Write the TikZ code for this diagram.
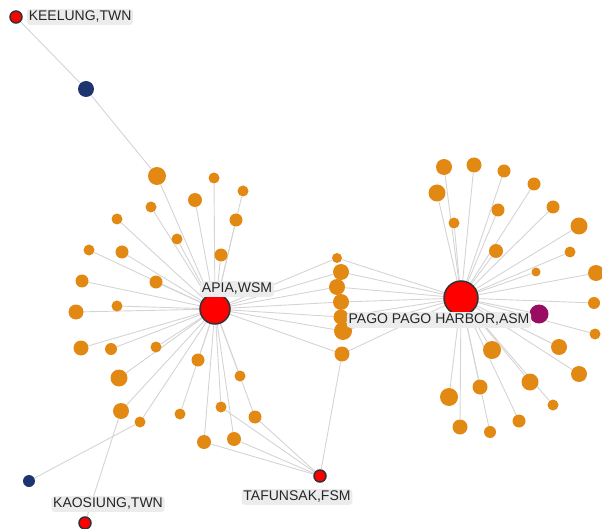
\documentclass[tikz,border=0pt]{standalone}
\usepackage{fontspec}
\setmainfont{Liberation Sans}
\usepackage{tikz}
\usetikzlibrary{positioning}
\definecolor{leaforange}{RGB}{226,137,19}
\definecolor{navyblue}{RGB}{30,52,112}
\definecolor{plum}{RGB}{154,12,98}
\definecolor{edgegray}{RGB}{212,212,212}
\definecolor{lblgray}{RGB}{236,236,236}
\pgfdeclarelayer{edges}
\pgfsetlayers{edges,main}
\tikzset{
  hub/.style   = {circle, draw=black!80, fill=red, line width=1.5pt, inner sep=0pt},
  leaf/.style  = {circle, fill=leaforange, inner sep=0pt},
  relay/.style = {circle, fill=navyblue, inner sep=0pt},
  lbl/.style   = {fill=lblgray, rounded corners=3pt, text=black!85, inner xsep=1.8pt,
                  inner ysep=2pt, font=\fontsize{14}{15}\selectfont},
  gedge/.style = {draw=edgegray, line width=0.9pt},
}

\begin{document}
\begin{tikzpicture}[x=1pt, y=-1pt]
\useasboundingbox (0,0) rectangle (602,529);

%── hubs ─────────────────────────────────────────────
\node[hub, minimum size=30pt] (apia) at (215,309) {};
\node[hub, minimum size=34pt] (pago) at (461,298) {};
\node[hub, minimum size=12pt] (keelung)  at (16,17) {};
\node[hub, minimum size=12pt] (kaosiung) at (85,523) {};
\node[hub, minimum size=12pt] (tafunsak) at (320,476) {};

%── other nodes ──────────────────────────────────────
\node[relay, minimum size=16pt] (b1) at (86,89) {};
\node[relay, minimum size=12pt] (b2) at (29,481) {};
\node[circle, fill=plum, inner sep=0pt, minimum size=19pt] (pur) at (539,314) {};

% leaves of APIA
\foreach \n/\x/\y/\r in {1/157/176/9, 2/214/178/5.5, 3/243/191/5.5, 4/195/200/7,
    5/151/207/5.5, 6/117/219/5.5, 7/236/220/6.5, 8/177/239/5.5, 9/89/250/5.5,
    10/122/252/6.5, 11/221/255/6.5, 12/82/281/6.5, 13/156/282/6.5, 14/117/306/5.5,
    15/76/312/7.5, 16/81/348/7.5, 17/111/349/6, 18/156/347/5.5, 19/198/360/6.5,
    20/119/378/8.5, 21/240/376/5.5, 22/121/411/8, 23/180/414/5.5, 24/221/407/5.5,
    25/255/417/6.5, 26/140/422/5.5, 27/204/442/7, 28/234/439/7}{
  \node[leaf, minimum size=2*\r pt] (a\n) at (\x,\y) {};
}

% shared leaves between the two hubs
\foreach \n/\x/\y/\r in {1/337/258/5, 2/341/272/8, 3/337/287/8, 4/341/302/8,
    5/341/317/7.5, 6/343/331/9, 7/342/354/7.5}{
  \node[leaf, minimum size=2*\r pt] (m\n) at (\x,\y) {};
}

% leaves of PAGO PAGO
\foreach \n/\x/\y/\r in {1/444/167/8, 2/474/165/7.5, 3/504/171/6.5, 4/437/193/8.5,
    5/534/184/6.5, 6/498/210/6.5, 7/454/223/5.5, 8/553/207/6.5, 9/579/226/8.5,
    10/496/251/7, 11/570/252/5.5, 12/536/272/4.5, 13/596/273/8, 14/594/303/6,
    16/595/334/5.5, 17/492/350/9, 18/559/347/8, 19/579/374/8, 20/530/382/8.5,
    21/480/387/7.5, 22/449/397/9, 23/553/405/5.5, 24/460/427/7.5, 25/519/421/6.5,
    26/490/432/6}{
  \node[leaf, minimum size=2*\r pt] (p\n) at (\x,\y) {};
}

%── edges ────────────────────────────────────────────
\begin{pgfonlayer}{edges}
  \foreach \i in {1,...,28} \draw[gedge] (apia) -- (a\i);
  \foreach \i in {1,...,7} \draw[gedge] (apia) -- (m\i) -- (pago);
  \foreach \i in {1,...,14,16,17,...,26} \draw[gedge] (pago) -- (p\i);
  \draw[gedge] (pago) -- (pur);
  \draw[gedge] (keelung) -- (b1) -- (a1);
  \draw[gedge] (kaosiung) -- (a22);
  \draw[gedge] (b2) -- (a26);
  \foreach \i in {24,25,27,28} \draw[gedge] (tafunsak) -- (a\i);
  \draw[gedge] (tafunsak) -- (m7);
\end{pgfonlayer}

%── labels ───────────────────────────────────────────
\node[lbl, right=4pt of keelung] (keelung-lbl) {KEELUNG,TWN};
\node[lbl] (apia-lbl) at (237,289) {APIA,WSM};
\node[lbl] (pago-lbl) at (439,320) {PAGO PAGO HARBOR,ASM};
\node[lbl] (tafunsak-lbl) at (297,497) {TAFUNSAK,FSM};
\node[lbl] (kaosiung-lbl) at (108,504) {KAOSIUNG,TWN};

\end{tikzpicture}
\end{document}
